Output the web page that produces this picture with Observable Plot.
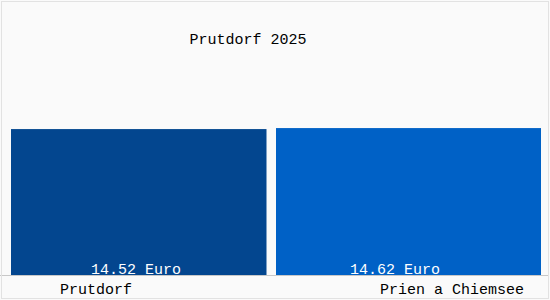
<!DOCTYPE html>
<html>
<head>
<meta charset="utf-8">
<script src="https://cdn.jsdelivr.net/npm/d3@7"></script>
<script src="https://cdn.jsdelivr.net/npm/@observablehq/plot@0.6"></script>
<style>
  html, body { margin: 0; padding: 0; background: #fafafa; }
  #chart svg { display: block; outline: 1px solid #e2e2e2; outline-offset: -2px; }
</style>
</head>
<body>
<div id="chart"></div>
<script>
const title = "Prutdorf 2025";
const categories = ["Prutdorf", "Prien a Chiemsee"];
const values = [14.52, 14.62];
const unit = "Euro";
const colors = ["#03468f", "#0061c6"];

const data = categories.map((c, i) => ({
  city: c,
  value: values[i],
  label: values[i].toFixed(2) + " " + unit
}));
const d0 = data.filter(d => d.city === categories[0]);
const d1 = data.filter(d => d.city === categories[1]);

const font = "Liberation Mono, DejaVu Sans Mono, monospace";

const chart = Plot.plot({
  width: 550,
  height: 300,
  marginLeft: 10,
  marginRight: 9,
  marginTop: 74,
  marginBottom: 25,
  x: { domain: categories, padding: 0, axis: null },
  y: { domain: [0, 20], axis: null },
  style: { background: "#fafafa", fontFamily: font, fontSize: "15px" },
  marks: [
    Plot.barY(d0, { x: "city", y: "value", fill: colors[0], insetRight: 9.5 }),
    Plot.barY(d1, { x: "city", y: "value", fill: colors[1] }),
    Plot.ruleY([0], { stroke: "#c8c8c8", insetLeft: -10, insetRight: -7 }),
    Plot.text(d0, { x: "city", y: 0, text: "label", fill: "white", fontSize: 15, lineAnchor: "bottom", dy: -2, dx: -8 }),
    Plot.text(d1, { x: "city", y: 0, text: "label", fill: "white", fontSize: 15, lineAnchor: "bottom", dy: -2, dx: -14 }),
    Plot.text(d0, { x: "city", y: 0, text: "city", fill: "black", fontSize: 15, lineAnchor: "bottom", dy: 18, dx: -48 }),
    Plot.text(d1, { x: "city", y: 0, text: "city", fill: "black", fontSize: 15, lineAnchor: "bottom", dy: 18, dx: 43 }),
    Plot.text([title], { frameAnchor: "top", text: d => d, fill: "black", fontSize: 15, lineAnchor: "bottom", dy: -31, dx: -28 })
  ]
});
document.getElementById("chart").appendChild(chart);
</script>
</body>
</html>
